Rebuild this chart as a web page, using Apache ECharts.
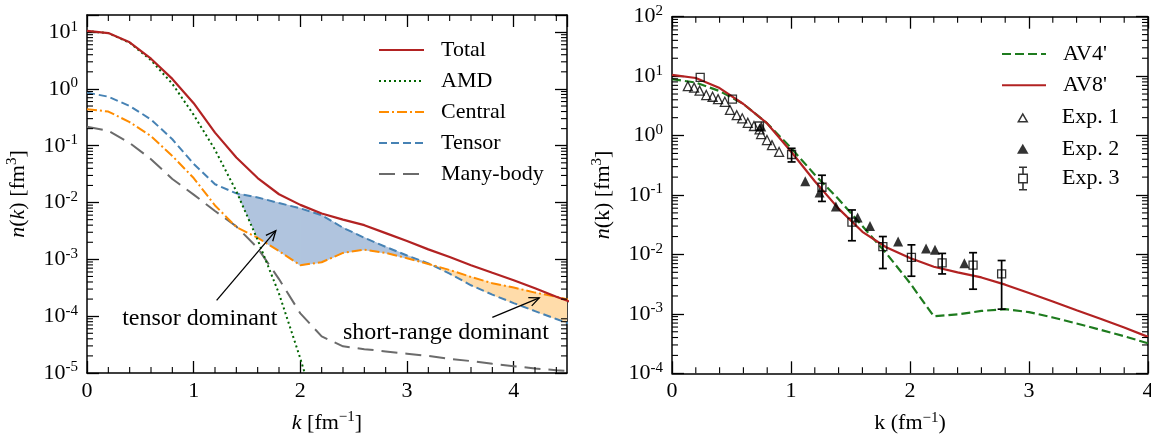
<!DOCTYPE html>
<html>
<head>
<meta charset="utf-8">
<script src="https://cdn.jsdelivr.net/npm/echarts@6/dist/echarts.min.js"></script>
<style>
  html, body { margin: 0; padding: 0; background: #fff; }
  #chart { width: 1151px; height: 438px; }
</style>
</head>
<body>
<div id="chart"></div>
<script>
// ---- left panel: momentum distribution and its parts ----
var kLeft = [0, 0.2, 0.4, 0.6, 0.8, 1.0, 1.2, 1.4, 1.6, 1.8, 2.0, 2.2, 2.4, 2.6, 2.8, 3.0, 3.2, 3.4, 3.6, 3.8, 4.0, 4.2, 4.4, 4.6];
var total = [10.5, 9.6, 6.6, 3.4, 1.5, 0.56, 0.17, 0.062, 0.027, 0.014, 0.0091, 0.0064, 0.005, 0.004, 0.0029, 0.0021, 0.0015, 0.0011, 0.00079, 0.00058, 0.00043, 0.00031, 0.00022, 0.00016];
var amd = [10.5, 9.6, 6.5, 3.2, 1.23, 0.35, 0.085, 0.0158, 0.0022, 0.00025, 0.000018, 0.000001];
var central = [0.44, 0.40, 0.26, 0.148, 0.066, 0.027, 0.0089, 0.0037, 0.0024, 0.0014, 0.00079, 0.00089, 0.0013, 0.00148, 0.0013, 0.00105, 0.00083, 0.00065, 0.00049, 0.00038, 0.00032, 0.00026, 0.00022, 0.00018];
var tensor = [0.86, 0.73, 0.50, 0.29, 0.13, 0.048, 0.021, 0.0145, 0.0123, 0.0098, 0.0079, 0.006, 0.0036, 0.0024, 0.00166, 0.00117, 0.00085, 0.00056, 0.00035, 0.00024, 0.00017, 0.000123, 0.000089, 0.000065];
var manyBody = [0.216, 0.184, 0.112, 0.058, 0.026, 0.0138, 0.0071, 0.0038, 0.00158, 0.00045, 0.000112, 0.000044, 0.0000295, 0.0000263, 0.000024, 0.0000219, 0.00002, 0.0000178, 0.0000162, 0.0000145, 0.0000132, 0.000012, 0.0000112, 0.0000105];

// annotations: [k, n] of text anchor, arrows [k tail, n tail, k tip, n tip]
var noteText = ['tensor dominant', 'short-range dominant'];
var noteAt = [[0.33, 0.000091], [2.40, 0.000052]];
var noteArrow = [[1.215, 0.00019, 1.77, 0.0032], [3.80, 0.000095, 4.24, 0.00021]];

// ---- right panel: AV4' / AV8' against experiment ----
var kRight = [0, 0.2, 0.4, 0.6, 0.8, 1.0, 1.2, 1.4, 1.6, 1.8, 2.0, 2.2, 2.4, 2.6, 2.8, 3.0, 3.2, 3.4, 3.6, 3.8, 4.0];
var av8 = [10.5, 9.3, 6.3, 3.4, 1.6, 0.54, 0.17, 0.059, 0.024, 0.0132, 0.0087, 0.0062, 0.005, 0.0041, 0.0031, 0.00224, 0.00162, 0.00115, 0.00083, 0.00059, 0.00041];
var av4 = [8.9, 7.8, 5.6, 3.4, 1.6, 0.62, 0.22, 0.085, 0.03, 0.0105, 0.0033, 0.00091, 0.00098, 0.00112, 0.0012, 0.00107, 0.00087, 0.00069, 0.00054, 0.00042, 0.00032];

var exp1K = [0.133, 0.186, 0.232, 0.288, 0.341, 0.387, 0.444, 0.487, 0.544, 0.59, 0.637, 0.689, 0.736, 0.749, 0.798, 0.84, 0.90];
var exp1N = [6.8, 6.4, 5.7, 4.8, 4.5, 4.1, 3.7, 2.7, 2.2, 1.95, 1.64, 1.45, 1.27, 1.06, 0.84, 0.69, 0.53];
var exp2K = [0.75, 1.12, 1.24, 1.377, 1.56, 1.664, 1.90, 2.135, 2.21, 2.457];
var exp2N = [1.42, 0.17, 0.11, 0.064, 0.042, 0.030, 0.0165, 0.0126, 0.012, 0.0071];
var exp3K = [0.237, 0.508, 0.735, 1.005, 1.26, 1.512, 1.772, 2.012, 2.27, 2.53, 2.77];
var exp3N = [9.5, 4.1, 1.45, 0.48, 0.135, 0.035, 0.0135, 0.0089, 0.0072, 0.0066, 0.0047];
var exp3Lo = [null, null, null, 0.36, 0.078, 0.017, 0.0058, 0.0043, 0.0047, 0.0026, 0.0012];
var exp3Hi = [null, null, null, 0.61, 0.215, 0.056, 0.02, 0.0145, 0.0104, 0.0107, 0.0079];

var FONT = "'Liberation Serif', 'Times New Roman', 'DejaVu Serif', serif";

function pairs(xs, ys) {
  return ys.map(function (y, i) { return [xs[i], y]; });
}
function lg(v) { return Math.log(v) / Math.LN10; }

// region where "top" lies above all of "others" (crossings found in log space)
function band(xs, top, others) {
  var bot = xs.map(function (x, i) {
    var m = 0;
    others.forEach(function (o) { if (o[i] != null && o[i] > m) m = o[i]; });
    return m > 0 ? m : 1e-12;
  });
  var pts = [];
  for (var i = 0; i < top.length; i++) {
    var d = lg(top[i]) - lg(bot[i]);
    if (i > 0) {
      var dp = lg(top[i - 1]) - lg(bot[i - 1]);
      if ((dp > 0) !== (d > 0)) {
        var t = dp / (dp - d);
        var x = xs[i - 1] + t * (xs[i] - xs[i - 1]);
        var y = Math.pow(10, lg(top[i - 1]) + t * (lg(top[i]) - lg(top[i - 1])));
        pts.push([x, y, y]);
      }
    }
    if (d > 0) pts.push([xs[i], top[i], bot[i]]);
  }
  return pts;
}

function renderBand(points, color) {
  return function (params, api) {
    var i = params.dataIndex;
    if (i >= points.length - 1) return;
    var a = points[i], b = points[i + 1];
    var poly = [api.coord([a[0], a[1]]), api.coord([b[0], b[1]]), api.coord([b[0], b[2]]), api.coord([a[0], a[2]])];
    return { type: 'polygon', shape: { points: poly }, style: { fill: color, stroke: color, lineWidth: 1 } };
  };
}

// minor ticks on all four sides of a grid
function minorTicks(xMax, xMajor, yMin, yMax, logLo, logHi) {
  var out = [];
  for (var j = 0; j < xMajor.length; j++) {
    for (var s = 1; s < 5; s++) {
      var v = Math.round((xMajor[j] + s * 0.2) * 10) / 10;
      if (v < xMax) out.push([v, yMin, 0]);
    }
  }
  for (var n = logLo; n <= logHi; n++) {
    for (var m = 2; m <= 9; m++) {
      var y = m * Math.pow(10, n);
      if (y < yMax) out.push([0, y, 1]);
    }
  }
  return out;
}
function renderMinor(xMax, yMin, yMax) {
  var st = { stroke: '#000', lineWidth: 1.1 };
  return function (params, api) {
    var L = 6;
    if (api.value(2) === 0) {
      var b = api.coord([api.value(0), yMin]);
      var t = api.coord([api.value(0), yMax]);
      return { type: 'group', children: [
        { type: 'line', shape: { x1: b[0], y1: b[1], x2: b[0], y2: b[1] - L }, style: st },
        { type: 'line', shape: { x1: t[0], y1: t[1], x2: t[0], y2: t[1] + L }, style: st }
      ] };
    }
    var l = api.coord([0, api.value(1)]);
    var r = api.coord([xMax, api.value(1)]);
    return { type: 'group', children: [
      { type: 'line', shape: { x1: l[0], y1: l[1], x2: l[0] + L, y2: l[1] }, style: st },
      { type: 'line', shape: { x1: r[0], y1: r[1], x2: r[0] - L, y2: r[1] }, style: st }
    ] };
  };
}

function renderArrow(params, api) {
  var p = api.coord([api.value(0), api.value(1)]);
  var q = api.coord([api.value(2), api.value(3)]);
  var ang = Math.atan2(q[1] - p[1], q[0] - p[0]);
  var h = 11, w = 0.42;
  var h1 = [q[0] - h * Math.cos(ang - w), q[1] - h * Math.sin(ang - w)];
  var h2 = [q[0] - h * Math.cos(ang + w), q[1] - h * Math.sin(ang + w)];
  var st = { stroke: '#000', lineWidth: 1.3, fill: null };
  return { type: 'group', children: [
    { type: 'line', shape: { x1: p[0], y1: p[1], x2: q[0], y2: q[1] }, style: st },
    { type: 'polyline', shape: { points: [h1, q, h2] }, style: st }
  ] };
}

function renderNote(params, api) {
  var p = api.coord([api.value(0), api.value(1)]);
  return { type: 'text', x: p[0], y: p[1], style: {
    text: noteText[params.dataIndex], fill: '#000', font: '24px ' + FONT,
    textAlign: 'left', textVerticalAlign: 'middle' } };
}

function renderErr(params, api) {
  var lo = api.coord([api.value(0), api.value(1)]);
  var hi = api.coord([api.value(0), api.value(2)]);
  var st = { stroke: '#000', lineWidth: 1.7 };
  return { type: 'group', children: [
    { type: 'line', shape: { x1: lo[0], y1: lo[1], x2: hi[0], y2: hi[1] }, style: st },
    { type: 'line', shape: { x1: lo[0] - 4, y1: lo[1], x2: lo[0] + 4, y2: lo[1] }, style: st },
    { type: 'line', shape: { x1: hi[0] - 4, y1: hi[1], x2: hi[0] + 4, y2: hi[1] }, style: st }
  ] };
}

function powLabel(v) {
  var e = Math.round(lg(v));
  if (Math.abs(lg(v) - e) > 1e-6) return '';
  return '{b|10}{s|' + e + '}';
}
var powRich = {
  b: { fontFamily: FONT, fontSize: 22, color: '#000', lineHeight: 26 },
  s: { fontFamily: FONT, fontSize: 15, color: '#000', lineHeight: 15, verticalAlign: 'top' }
};
var nameRich = {
  i: { fontFamily: FONT, fontSize: 22, fontStyle: 'italic', color: '#000', lineHeight: 26 },
  t: { fontFamily: FONT, fontSize: 22, color: '#000', lineHeight: 26 },
  s: { fontFamily: FONT, fontSize: 15, color: '#000', lineHeight: 15, verticalAlign: 'top' }
};

var boxLine = { show: true, onZero: false, lineStyle: { color: '#000', width: 1.5 } };
var majorTick = { show: true, inside: true, length: 12, lineStyle: { color: '#000', width: 1.3 } };

function xAxisPair(g, max, name) {
  return [
    { gridIndex: g, type: 'value', min: 0, max: max, interval: 1, position: 'bottom',
      axisLine: boxLine, axisTick: majorTick, splitLine: { show: false },
      axisLabel: { fontFamily: FONT, fontSize: 22, color: '#000', margin: 7, showMaxLabel: max === 4 },
      name: name, nameLocation: 'middle', nameGap: 37, nameTextStyle: { rich: nameRich } },
    { gridIndex: g, type: 'value', min: 0, max: max, interval: 1, position: 'top',
      axisLine: boxLine, axisTick: majorTick, splitLine: { show: false }, axisLabel: { show: false } }
  ];
}
function yAxisPair(g, min, max, name, gap) {
  return [
    { gridIndex: g, type: 'log', logBase: 10, min: min, max: max, splitNumber: 6, position: 'left',
      axisLine: boxLine, axisTick: majorTick, splitLine: { show: false },
      axisLabel: { formatter: powLabel, rich: powRich, margin: 9 },
      name: name, nameLocation: 'middle', nameRotate: 90, nameGap: gap, nameTextStyle: { rich: nameRich } },
    { gridIndex: g, type: 'log', logBase: 10, min: min, max: max, splitNumber: 6, position: 'right',
      axisLine: boxLine, axisTick: majorTick, splitLine: { show: false }, axisLabel: { show: false } }
  ];
}

var tensorBand = band(kLeft, tensor, [amd, central]);
var centralBand = band(kLeft, central, [tensor]);
var errData = [];
exp3K.forEach(function (k, i) { if (exp3Lo[i] != null) errData.push([k, exp3Lo[i], exp3Hi[i]]); });

var legendText = { fontFamily: FONT, fontSize: 22, color: '#000', lineHeight: 24, padding: [0, 0, 0, 12] };
var hideMark = { color: 'rgba(0,0,0,0)', borderColor: 'rgba(0,0,0,0)', borderWidth: 0 };
var openTri = 'path://M5 0L10 8.66L0 8.66Z M5 2.6L2.25 7.36L7.75 7.36Z';
var fullTri = 'path://M5 0L10 8.66L0 8.66Z';
var errIcon = 'path://M0 7L10 7L10 17L0 17Z M1.4 8.4L1.4 15.6L8.6 15.6L8.6 8.4Z M4.2 0L5.8 0L5.8 7L4.2 7Z M1 0L9 0L9 1.6L1 1.6Z M4.2 17L5.8 17L5.8 24L4.2 24Z M1 22.4L9 22.4L9 24L1 24Z';
var blackIcon = { color: '#000', borderWidth: 0 };

var myChart = echarts.init(document.getElementById('chart'), null, { renderer: 'canvas' });
var option = {
  animation: false,
  backgroundColor: '#fff',
  grid: [
    { left: 87, top: 15, width: 480, height: 358, outerBoundsMode: 'none' },
    { left: 672, top: 16.7, width: 476, height: 356.6, outerBoundsMode: 'none' }
  ],
  xAxis: xAxisPair(0, 4.5, '{i|k}{t| [fm}{s|\u22121}{t|]}').concat(xAxisPair(1, 4, '{t|k (fm}{s|\u22121}{t|)}')),
  yAxis: yAxisPair(0, 1e-5, 20, '{i|n}{t|(}{i|k}{t|) [fm}{s|3}{t|]}', 56).concat(
    yAxisPair(1, 1e-4, 100, '{i|n}{t|(k) [fm}{s|3}{t|]}', 56)),
  legend: [
    { data: ['Total', 'AMD', 'Central', 'Tensor', 'Many-body'], orient: 'vertical', left: 378, top: 38, padding: 0,
      itemWidth: 45, itemHeight: 12, itemGap: 7, itemStyle: hideMark, textStyle: legendText, selectedMode: false },
    { data: ["AV4'", "AV8'"], orient: 'vertical', left: 1001, top: 42, padding: 0,
      itemWidth: 44, itemHeight: 10, itemGap: 7.3, itemStyle: hideMark, textStyle: legendText, selectedMode: false },
    { data: [{ name: 'Exp. 1', icon: openTri, itemStyle: blackIcon }, { name: 'Exp. 2', icon: fullTri, itemStyle: blackIcon }],
      orient: 'vertical', left: 1017, top: 105.5, padding: 0,
      itemWidth: 44, itemHeight: 10, itemGap: 7.3, textStyle: legendText, selectedMode: false },
    { data: [{ name: 'Exp. 3', icon: errIcon, itemStyle: blackIcon }],
      orient: 'vertical', left: 1018, top: 166.5, padding: 0, itemWidth: 44, itemHeight: 24,
      textStyle: legendText, selectedMode: false }
  ],
  series: [
    { type: 'custom', xAxisIndex: 0, yAxisIndex: 0, clip: true, silent: true, z: 1,
      data: tensorBand, renderItem: renderBand(tensorBand, '#b0c4de') },
    { type: 'custom', xAxisIndex: 0, yAxisIndex: 0, clip: true, silent: true, z: 1,
      data: centralBand, renderItem: renderBand(centralBand, '#ffdcaa') },
    { name: 'Many-body', type: 'line', xAxisIndex: 0, yAxisIndex: 0, data: pairs(kLeft, manyBody), symbol: 'none',
      lineStyle: { color: '#6b6b6b', width: 2, type: [16, 8] }, itemStyle: { color: '#6b6b6b' } },
    { name: 'Tensor', type: 'line', xAxisIndex: 0, yAxisIndex: 0, data: pairs(kLeft, tensor), symbol: 'none',
      lineStyle: { color: '#4682b4', width: 2, type: [8, 4] }, itemStyle: { color: '#4682b4' } },
    { name: 'Central', type: 'line', xAxisIndex: 0, yAxisIndex: 0, data: pairs(kLeft, central), symbol: 'none',
      lineStyle: { color: '#ff8c00', width: 2, type: [10, 3, 2, 3] }, itemStyle: { color: '#ff8c00' } },
    { name: 'AMD', type: 'line', xAxisIndex: 0, yAxisIndex: 0, data: pairs(kLeft, amd), symbol: 'none',
      lineStyle: { color: '#006400', width: 2, type: [2, 3] }, itemStyle: { color: '#006400' } },
    { name: 'Total', type: 'line', xAxisIndex: 0, yAxisIndex: 0, data: pairs(kLeft, total), symbol: 'none',
      lineStyle: { color: '#b22222', width: 2.2 }, itemStyle: { color: '#b22222' } },
    { type: 'custom', xAxisIndex: 0, yAxisIndex: 0, silent: true, z: 6, data: noteArrow, renderItem: renderArrow },
    { type: 'custom', xAxisIndex: 0, yAxisIndex: 0, silent: true, z: 6, data: noteAt, renderItem: renderNote },
    { type: 'custom', xAxisIndex: 0, yAxisIndex: 0, silent: true, z: 7,
      data: minorTicks(4.5, [0, 1, 2, 3, 4], 1e-5, 20, -5, 1), renderItem: renderMinor(4.5, 1e-5, 20) },

    { name: "AV4'", type: 'line', xAxisIndex: 2, yAxisIndex: 2, data: pairs(kRight, av4), symbol: 'none',
      lineStyle: { color: '#1e7b1e', width: 2.2, type: [9, 4] }, itemStyle: { color: '#1e7b1e' } },
    { name: "AV8'", type: 'line', xAxisIndex: 2, yAxisIndex: 2, data: pairs(kRight, av8), symbol: 'none',
      lineStyle: { color: '#b22222', width: 2.2 }, itemStyle: { color: '#b22222' } },
    { name: 'Exp. 1', type: 'scatter', xAxisIndex: 2, yAxisIndex: 2, data: pairs(exp1K, exp1N),
      symbol: 'triangle', symbolSize: 9, z: 4,
      itemStyle: { color: 'rgba(0,0,0,0)', borderColor: '#000', borderWidth: 1.3 } },
    { name: 'Exp. 2', type: 'scatter', xAxisIndex: 2, yAxisIndex: 2, data: pairs(exp2K, exp2N),
      symbol: 'triangle', symbolSize: 10, z: 4, itemStyle: { color: '#000' } },
    { type: 'custom', xAxisIndex: 2, yAxisIndex: 2, silent: true, z: 4, data: errData, renderItem: renderErr },
    { name: 'Exp. 3', type: 'scatter', xAxisIndex: 2, yAxisIndex: 2, data: pairs(exp3K, exp3N),
      symbol: 'rect', symbolSize: 8, z: 5,
      itemStyle: { color: 'rgba(0,0,0,0)', borderColor: '#000', borderWidth: 1.3 } },
    { type: 'custom', xAxisIndex: 2, yAxisIndex: 2, silent: true, z: 7,
      data: minorTicks(4, [0, 1, 2, 3], 1e-4, 100, -4, 1), renderItem: renderMinor(4, 1e-4, 100) }
  ]
};
option && myChart.setOption(option);
</script>
</body>
</html>
